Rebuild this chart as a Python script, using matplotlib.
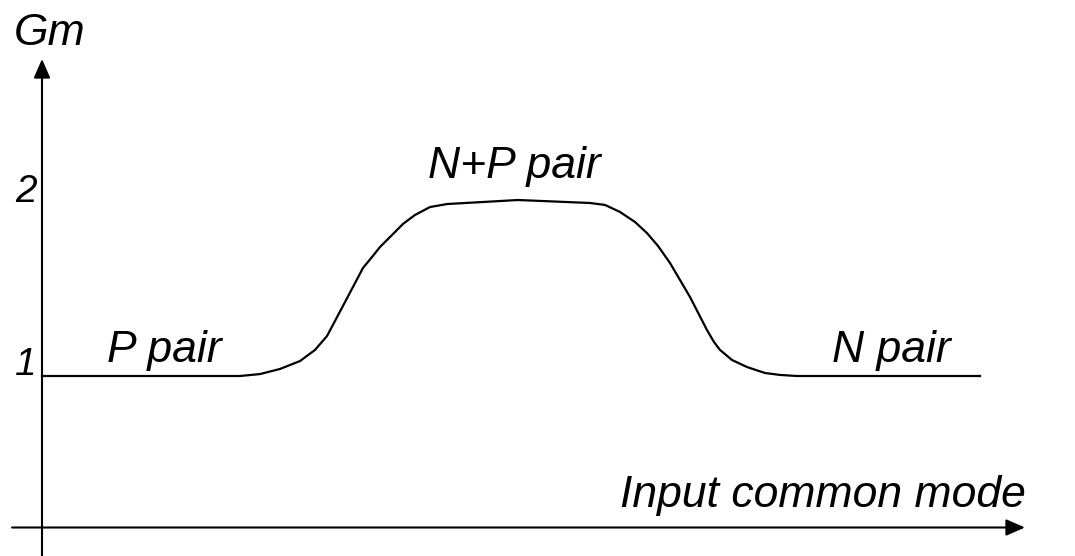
import matplotlib
matplotlib.use("Agg")
import matplotlib.pyplot as plt

# Gm vs input common mode (x in arbitrary units, Gm normalised to one pair)
vcm = [42, 240, 260, 280, 300, 315, 327, 345, 363, 372, 380, 392, 403,
       415, 430, 447, 518, 590, 605, 620, 635, 647, 658, 670, 690, 707,
       714, 720, 732, 747, 765, 780, 797, 980]
gm = [1.0, 1.0, 1.011, 1.040, 1.085, 1.148, 1.227, 1.42, 1.614, 1.676,
      1.733, 1.801, 1.864, 1.915, 1.960, 1.977, 2.0, 1.983, 1.972, 1.932,
      1.875, 1.812, 1.739, 1.642, 1.449, 1.261, 1.193, 1.148, 1.091,
      1.051, 1.017, 1.006, 1.0, 1.0]

region_labels = ["P pair", "N+P pair", "N pair"]
tick_labels = ["1", "2"]


def py(px):
    # vertical pixel row -> Gm value
    return 1 + (376 - px) / 176


plt.rcParams['font.family'] = ['Liberation Sans', 'DejaVu Sans']

fig = plt.figure(figsize=(10.75, 5.56), dpi=100)
ax = fig.add_axes([0, 0, 1, 1])
ax.set_xlim(0, 1075)
ax.set_ylim(py(556), py(0))
ax.axis('off')

arrow = dict(arrowstyle='-|>,head_length=0.8,head_width=0.35',
             mutation_scale=14.4, lw=1.5, color='black',
             shrinkA=0, shrinkB=0)
ax.annotate('', xy=(42, py(59)), xytext=(42, py(556)), arrowprops=arrow)
ax.annotate('', xy=(1025, py(527.5)), xytext=(12, py(527.5)), arrowprops=arrow)

ax.plot(vcm, gm, color='black', lw=1.6, solid_joinstyle='round')

txt = dict(fontsize=32, style='italic', va='baseline', color='black')
ax.text(14, py(45), "Gm", ha='left', **txt)
ax.text(620, py(507), "Input common mode", ha='left', **txt)
ax.text(107, py(362), region_labels[0], ha='left', **txt)
ax.text(428, py(178), region_labels[1], ha='left', **txt)
ax.text(832, py(362), region_labels[2], ha='left', **txt)

num = dict(fontsize=28, style='italic', va='baseline', ha='right', color='black')
ax.text(37, py(375), tick_labels[0], **num)
ax.text(37, py(202), tick_labels[1], **num)

fig.savefig('out.png', dpi=100)
